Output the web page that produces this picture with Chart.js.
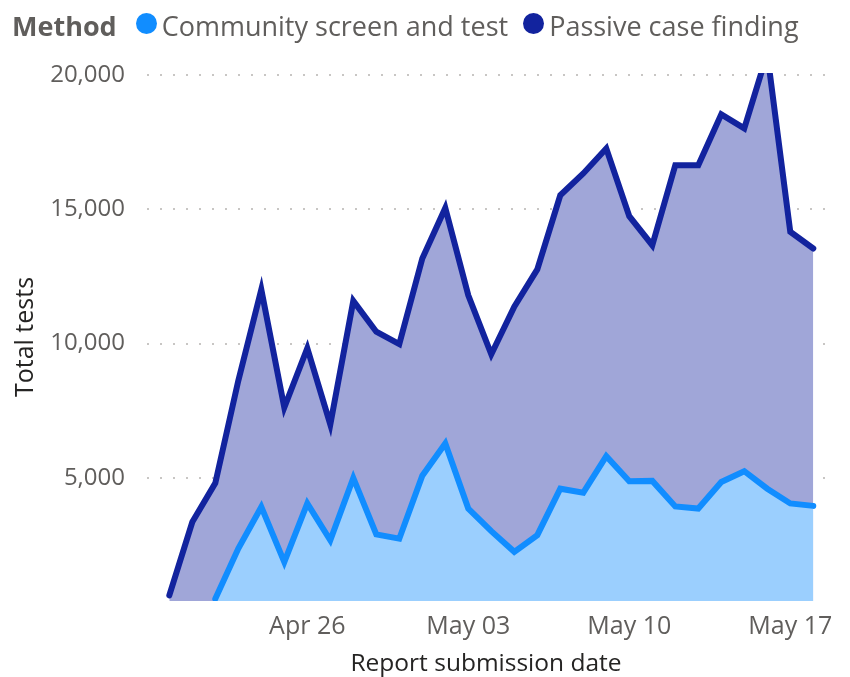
<!DOCTYPE html>
<html>
<head>
<meta charset="utf-8">
<script src="https://cdn.jsdelivr.net/npm/chart.js@4.4.1/dist/chart.umd.min.js"></script>
<style>
  body { margin: 0; background: #fff; }
  #wrap { position: relative; width: 850px; height: 677px; }
  #legend { position: absolute; left: 12px; top: 4px; height: 42px; display: flex; align-items: center;
    font-family: "Open Sans", sans-serif; font-size: 27px; color: #605E5C; white-space: nowrap; }
  #legend b { margin-right: 19px; }
  .dot { width: 21px; height: 21px; border-radius: 50%; display: inline-block; margin-right: 5px; margin-top: -3px; }
</style>
</head>
<body>
<div id="wrap">
  <div id="legend">
    <b>Method</b>
    <span class="dot" style="background:#118DFF"></span><span style="margin-right:15px">Community screen and test</span>
    <span class="dot" style="background:#12239E"></span><span>Passive case finding</span>
  </div>
  <canvas id="chart" width="850" height="677"></canvas>
</div>
<script>
var dates = ['Apr 20', 'Apr 21', 'Apr 22', 'Apr 23', 'Apr 24', 'Apr 25', 'Apr 26', 'Apr 27', 'Apr 28', 'Apr 29', 'Apr 30',
    'May 01', 'May 02', 'May 03', 'May 04', 'May 05', 'May 06', 'May 07', 'May 08', 'May 09', 'May 10',
    'May 11', 'May 12', 'May 13', 'May 14', 'May 15', 'May 16', 'May 17', 'May 18']

// community screen and test
var community = [null, null, 500, 2370, 3920, 1870, 4050, 2680, 5000, 2900, 2740,
    5080, 6280, 3860, 3020, 2250, 2870, 4600, 4450, 5810, 4880,
    4890, 3940, 3860, 4850, 5250, 4600, 4050, 3960]

// passive case finding
var passive = [630, 3360, 4810, 8620, 12010, 7620, 9830, 6990, 11590, 10440, 9980,
    13170, 15050, 11800, 9600, 11370, 12760, 15520, 16330, 17260, 14740,
    13660, 16640, 16640, 18530, 18010, 20800, 14160, 13540]

var yTicks = [5000, 10000, 15000, 20000]
var xTickLabels = ['Apr 26', 'May 03', 'May 10', 'May 17']

// data -> points (x = day index)
function toPoints(arr) {
    return arr.map(function (v, i) { return { x: i, y: v } })
}

var fmt = new Intl.NumberFormat('en-US')

new Chart(document.getElementById('chart'), {
    type: 'line',
    data: {
        datasets: [
            {
                label: 'Community screen and test',
                data: toPoints(community),
                borderColor: '#118DFF',
                backgroundColor: '#9BCFFE',
                borderWidth: 6,
                fill: 'origin',
                pointRadius: 0,
                tension: 0,
                clip: 0,
                borderCapStyle: 'round',
                borderJoinStyle: 'miter'
            },
            {
                label: 'Passive case finding',
                data: toPoints(passive),
                borderColor: '#12239E',
                backgroundColor: '#A0A6D8',
                borderWidth: 6,
                fill: 'origin',
                pointRadius: 0,
                tension: 0,
                clip: 0,
                borderCapStyle: 'round',
                borderJoinStyle: 'miter'
            }
        ]
    },
    options: {
        responsive: false,
        devicePixelRatio: 1,
        animation: false,
        layout: { padding: { top: 73, right: 25, left: 0, bottom: 0 } },
        plugins: {
            legend: { display: false },
            tooltip: { enabled: false }
        },
        scales: {
            x: {
                type: 'linear',
                min: -0.97,
                max: 28.51,
                grid: { display: false },
                border: { display: false },
                afterFit: function (scale) { scale.height = 76 },
                afterBuildTicks: function (scale) {
                    scale.ticks = xTickLabels.map(function (l) { return { value: dates.indexOf(l) } })
                },
                ticks: {
                    autoSkip: false,
                    maxRotation: 0,
                    padding: 3,
                    color: '#605E5C',
                    font: { family: 'Open Sans', size: 25 },
                    callback: function (v) { return dates[v] }
                },
                title: {
                    display: true,
                    text: 'Report submission date',
                    color: '#252423',
                    font: { family: 'Open Sans', size: 24.5 },
                    padding: { top: 4, bottom: -2 }
                }
            },
            y: {
                min: 420,
                max: 20070,
                z: 1,
                afterFit: function (scale) { scale.width = 147 },
                afterBuildTicks: function (scale) {
                    scale.ticks = yTicks.map(function (v) { return { value: v } })
                },
                grid: {
                    color: '#C8C6C4',
                    lineWidth: 2,
                    drawTicks: false
                },
                border: { display: false, dash: [2, 11] },
                ticks: {
                    padding: 22,
                    color: '#605E5C',
                    font: { family: 'Open Sans', size: 24 },
                    callback: function (v) { return fmt.format(v) }
                },
                title: {
                    display: true,
                    text: 'Total tests',
                    color: '#252423',
                    font: { family: 'Open Sans', size: 25 },
                    padding: { top: 11, bottom: 0 }
                }
            }
        }
    }
})
</script>
</body>
</html>
